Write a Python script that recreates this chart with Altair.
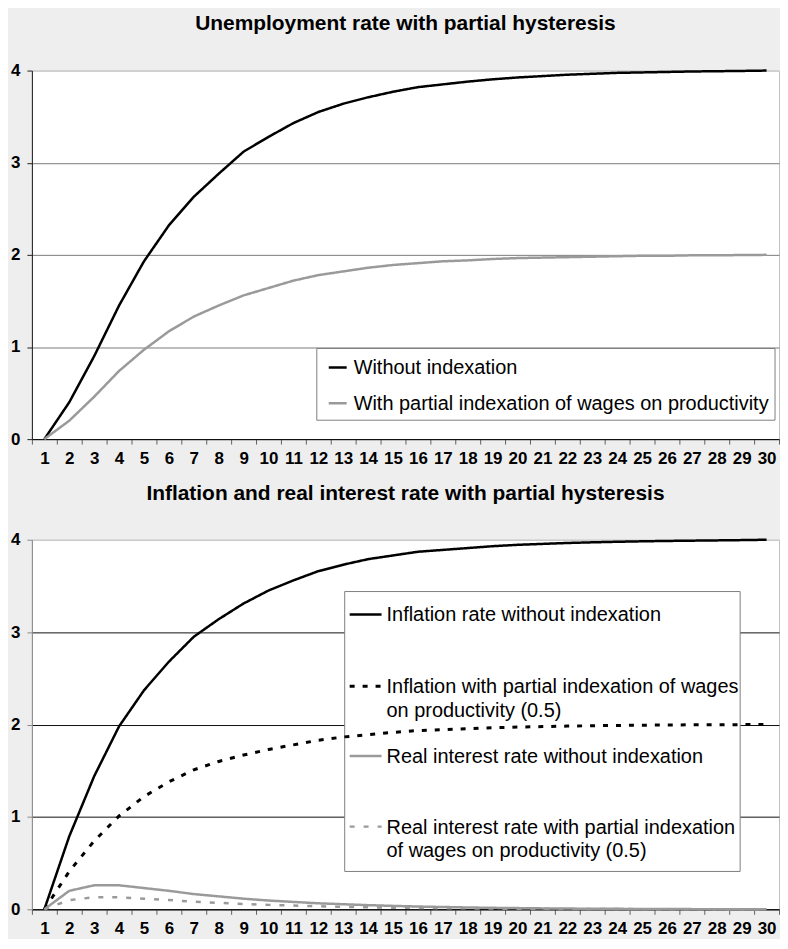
import altair as alt
import pandas as pd

FONT = "Liberation Sans"

periods = list(range(1, 31))

top_series = ["Without  indexation", "With partial indexation of wages on productivity"]
unemp_without = [0, 0.40, 0.90, 1.45, 1.93, 2.32, 2.63, 2.88, 3.12, 3.28,
                 3.43, 3.55, 3.64, 3.71, 3.77, 3.82, 3.85, 3.88, 3.905, 3.925,
                 3.94, 3.955, 3.965, 3.975, 3.98, 3.985, 3.99, 3.993, 3.996, 4.0]
unemp_partial = [0, 0.20, 0.46, 0.74, 0.97, 1.17, 1.33, 1.45, 1.56, 1.64,
                 1.72, 1.78, 1.82, 1.86, 1.89, 1.91, 1.93, 1.94, 1.955, 1.965,
                 1.97, 1.975, 1.98, 1.985, 1.99, 1.99, 1.995, 1.995, 1.998, 2.0]

bottom_series = ["Inflation rate without indexation",
                 "Inflation with partial indexation of wages\non productivity (0.5)",
                 "Real interest rate without indexation",
                 "Real interest rate with partial indexation\nof wages on productivity (0.5)"]
infl_without = [0, 0.79, 1.44, 1.98, 2.37, 2.68, 2.95, 3.14, 3.31, 3.45,
                3.56, 3.66, 3.73, 3.79, 3.83, 3.87, 3.89, 3.91, 3.93, 3.945,
                3.955, 3.965, 3.972, 3.978, 3.983, 3.987, 3.99, 3.993, 3.996, 4.0]
infl_partial = [0, 0.41, 0.74, 1.01, 1.22, 1.38, 1.51, 1.60, 1.67, 1.73,
                1.78, 1.83, 1.865, 1.89, 1.915, 1.935, 1.945, 1.955, 1.965, 1.972,
                1.978, 1.983, 1.987, 1.99, 1.993, 1.995, 1.997, 1.998, 1.999, 2.0]
real_without = [0, 0.20, 0.26, 0.26, 0.23, 0.20, 0.165, 0.14, 0.115, 0.095,
                0.08, 0.065, 0.055, 0.045, 0.037, 0.03, 0.025, 0.02, 0.016, 0.013,
                0.01, 0.008, 0.006, 0.005, 0.004, 0.003, 0.002, 0.002, 0.001, 0.001]
real_partial = [0, 0.10, 0.13, 0.13, 0.115, 0.10, 0.083, 0.07, 0.058, 0.048,
                0.04, 0.033, 0.027, 0.022, 0.018, 0.015, 0.012, 0.01, 0.008, 0.006,
                0.005, 0.004, 0.003, 0.0025, 0.002, 0.0015, 0.001, 0.001, 0.0005, 0.0005]

y_ticks = [0, 1, 2, 3, 4]

top_title = "Unemployment rate with partial hysteresis"
bottom_title = "Inflation and real interest rate with partial hysteresis"

# styles
BLACK = "#000000"
GRAY = "#9a9a9a"
W, H = 750, 370
SOLID = [1, 0]
DOT_BLACK = [5, 8]
DASH_GRAY = [5, 9]


def x_enc():
    return alt.X("period:O", title=None,
                 scale=alt.Scale(paddingInner=0, paddingOuter=0),
                 axis=alt.Axis(labelAngle=0, labelFont=FONT, labelFontSize=17,
                               labelFontWeight="bold", labelColor="black",
                               tickBand="extent", tickSize=5, tickColor="#606060",
                               domainColor="black", labelPadding=6, grid=False))


def y_enc(grid_col, dom_col):
    return alt.Y("value:Q", title=None,
                 scale=alt.Scale(domain=[0, 4], nice=False, zero=True),
                 axis=alt.Axis(values=y_ticks, format="d", labelFont=FONT,
                               labelFontSize=17, labelFontWeight="bold",
                               labelColor="black", tickSize=5, tickColor=dom_col,
                               domainColor=dom_col, labelPadding=7,
                               gridColor={"condition": {"test": "datum.value === 4",
                                                        "value": "#c8c8c8"},
                                          "value": grid_col}))


def series_line(values, color, dash, sw, grid_col, dom_col):
    df = pd.DataFrame({"period": periods, "value": values})
    return alt.Chart(df).mark_line(color=color, strokeWidth=sw, strokeDash=dash).encode(
        x=x_enc(), y=y_enc(grid_col, dom_col))


one = alt.Data(values=[{"k": 0}])


def legend_box(x, x2, y, y2):
    return alt.Chart(one).mark_rect(fill="white", stroke="#808080", strokeWidth=1).encode(
        x=alt.value(x), x2=alt.value(x2), y=alt.value(y), y2=alt.value(y2))


def legend_entry(label, color, dash, sw, sx, sx2, cy, tx):
    rule = alt.Chart(one).mark_rule(color=color, strokeWidth=sw, strokeDash=dash).encode(
        x=alt.value(sx), x2=alt.value(sx2), y=alt.value(cy))
    lines = label.split("\n")
    txt = alt.Chart(one).mark_text(font=FONT, fontSize=20, color="black", align="left",
                                   baseline="alphabetic", lineHeight=23.5).encode(
        x=alt.value(tx), y=alt.value(cy + 7),
        text=alt.value(lines if len(lines) > 1 else lines[0]))
    return [rule, txt]


# ---------- top chart
TG, TD = "#7a7a7a", "#202020"
top_layers = [legend_box(286, 746, 279, 351),
              series_line(unemp_without, BLACK, SOLID, 2.5, TG, TD),
              series_line(unemp_partial, GRAY, SOLID, 2.5, TG, TD)]
top_layers += legend_entry(top_series[0], BLACK, SOLID, 2.5, 298, 316, 298, 323)
top_layers += legend_entry(top_series[1], GRAY, SOLID, 2.5, 298, 316, 334, 323)

top = alt.layer(*top_layers).properties(
    width=W, height=H,
    title=alt.TitleParams(top_title, font=FONT, fontSize=21, fontWeight="bold",
                          color="black", anchor="middle", offset=28))

# ---------- bottom chart
BG, BD = "#101010", "#8a8a8a"
bot_layers = [legend_box(314, 711, 52, 333),
              series_line(infl_without, BLACK, SOLID, 2.5, BG, BD),
              series_line(infl_partial, BLACK, DOT_BLACK, 3, BG, BD),
              series_line(real_without, GRAY, SOLID, 2.5, BG, BD),
              series_line(real_partial, GRAY, DASH_GRAY, 2.5, BG, BD)]
bot_layers += legend_entry(bottom_series[0], BLACK, SOLID, 2.5, 319, 351, 75, 356)
bot_layers += legend_entry(bottom_series[1], BLACK, DOT_BLACK, 3, 319, 351, 147, 356)
bot_layers += legend_entry(bottom_series[2], GRAY, SOLID, 2.5, 319, 351, 217, 356)
bot_layers += legend_entry(bottom_series[3], GRAY, DASH_GRAY, 2.5, 319, 351, 288, 356)

bottom = alt.layer(*bot_layers).properties(
    width=W, height=H + 1,
    title=alt.TitleParams(bottom_title, font=FONT, fontSize=21, fontWeight="bold",
                          color="black", anchor="middle", offset=27))

chart = alt.vconcat(top, bottom, spacing=15).properties(
    background="#eeeeee",
    padding={"left": 2, "top": 2, "right": 0, "bottom": 0},
).configure_view(fill="white", stroke="#c0c0c0", strokeWidth=1)

chart.save("out.html", embed_options={"renderer": "svg", "actions": False})
